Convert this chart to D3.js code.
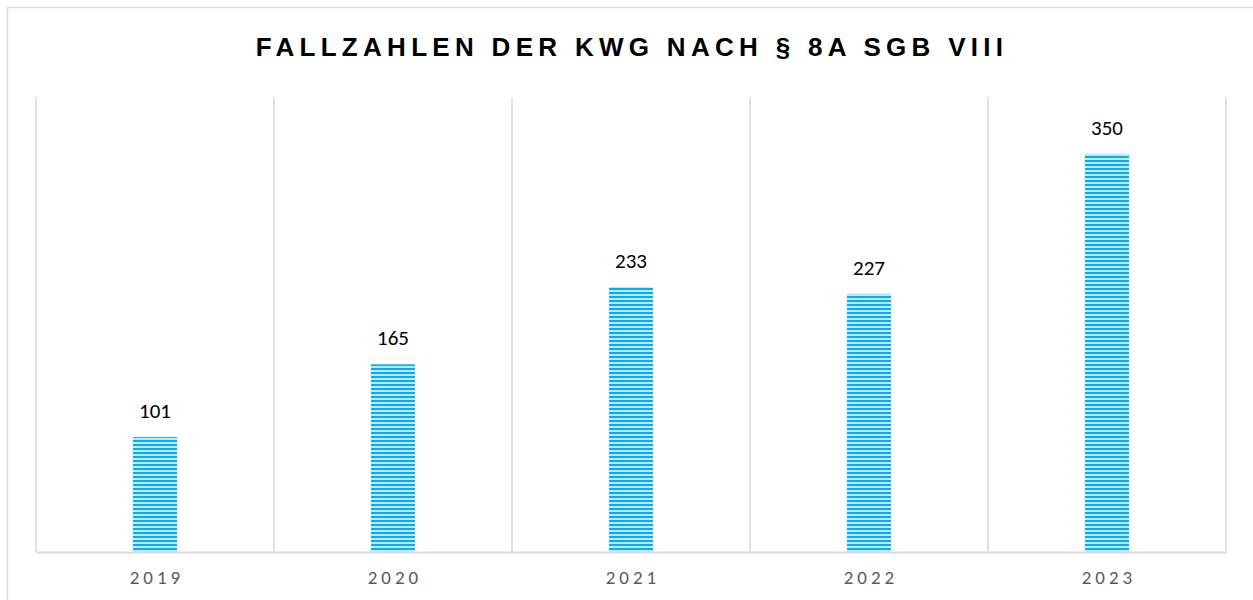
<!DOCTYPE html>
<html>
<head>
<meta charset="utf-8">
<script src="https://cdn.jsdelivr.net/npm/d3@7"></script>
<style>
  body { margin: 0; background: #fff; }
  svg { display: block; }
</style>
</head>
<body>
<svg width="1253" height="600"></svg>
<script>
(function() {
    'use strict';
    var years = ["2019", "2020", "2021", "2022", "2023"];
    var cases = [101, 165, 233, 227, 350];
    var title = "FALLZAHLEN DER KWG NACH § 8A SGB VIII";

    var svg = d3.select("svg");
    var margin = {left: 36, right: 27, top: 97, bottom: 48};
    var width = +svg.attr("width");
    var height = +svg.attr("height");

    // chart frame (runs off the right and bottom edge)
    svg.append("rect")
        .attr("x", 7.5).attr("y", 7.5)
        .attr("width", 1260).attr("height", 620)
        .attr("fill", "none")
        .attr("stroke", "#d9d9d9")
        .attr("stroke-width", 1.5);

    var defs = svg.append("defs");
    var pat = defs.append("pattern")
        .attr("id", "stripes")
        .attr("patternUnits", "userSpaceOnUse")
        .attr("width", 8).attr("height", 4);
    pat.append("rect").attr("width", 8).attr("height", 4).attr("fill", "#bfe9fb");
    pat.append("rect").attr("width", 8).attr("height", 2).attr("fill", "#00b0f0");

    var x = d3.scaleBand()
        .domain(years)
        .range([margin.left, width - margin.right])
        .paddingInner(0).paddingOuter(0);

    var y = d3.scaleLinear()
        .domain([0, 400])
        .range([height - margin.bottom, margin.top]);

    // vertical gridlines between categories
    var edges = years.map(function(d) { return x(d); }).concat([x.range()[1]]);
    svg.append("g")
      .selectAll("line")
      .data(edges)
      .enter().append("line")
        .attr("x1", function(d) { return d; })
        .attr("x2", function(d) { return d; })
        .attr("y1", y(400))
        .attr("y2", y(0))
        .attr("stroke", "#d9d9d9")
        .attr("stroke-width", 1.5);

    var barW = 44;
    svg.append("g")
      .selectAll("rect")
      .data(cases)
      .enter().append("rect")
        .attr("x", function(d, i) { return x(years[i]) + x.bandwidth() / 2 - barW / 2; })
        .attr("y", function(d) { return y(d); })
        .attr("width", barW)
        .attr("height", function(d) { return y(0) - y(d); })
        .attr("fill", "url(#stripes)");

    svg.append("g")
      .selectAll("text")
      .data(cases)
      .enter().append("text")
        .attr("x", function(d, i) { return x(years[i]) + x.bandwidth() / 2; })
        .attr("y", function(d) { return y(d) - 19; })
        .attr("text-anchor", "middle")
        .attr("font-family", "Carlito, 'Open Sans', sans-serif")
        .attr("font-size", 21)
        .attr("fill", "#000")
        .text(function(d) { return d; });

    var xAxis = svg.append("g")
        .attr("transform", "translate(0," + y(0) + ")")
        .call(d3.axisBottom(x).tickSize(0).tickPadding(19));
    xAxis.select(".domain")
        .attr("stroke", "#d9d9d9")
        .attr("stroke-width", 2);
    xAxis.selectAll("text")
        .attr("font-family", "Carlito, 'Open Sans', sans-serif")
        .attr("font-size", 19)
        .attr("letter-spacing", "4px")
        .attr("dx", "2px")
        .attr("fill", "#595959");

    svg.append("text")
        .attr("x", 632)
        .attr("y", 56)
        .attr("text-anchor", "middle")
        .attr("font-family", "'Liberation Sans', Arial, sans-serif")
        .attr("font-weight", "bold")
        .attr("font-size", 26)
        .attr("letter-spacing", "5.3px")
        .attr("fill", "#000")
        .text(title);
}());
</script>
</body>
</html>
